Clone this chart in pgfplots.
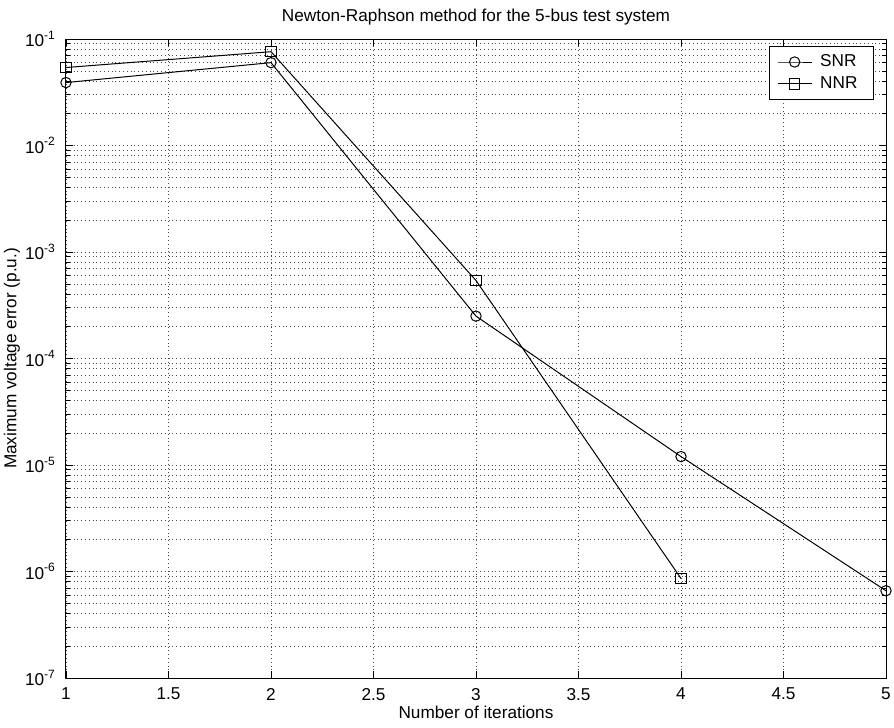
\documentclass[border=0pt]{standalone}
\usepackage{pgfplots}
\pgfplotsset{compat=1.18}
\usepackage{fontspec}
\setmainfont{Liberation Sans}

\newcommand{\chartfont}{\fontsize{8.6}{10}\selectfont}

\begin{document}
\begin{tikzpicture}[font=\chartfont]
\begin{semilogyaxis}[
    scale only axis,
    width=410pt, height=319.5pt,
    xmin=1, xmax=5,
    ymin=1e-7, ymax=1e-1,
    xtick={1,1.5,2,2.5,3,3.5,4,4.5,5},
    xticklabels={1,1.5,2,2.5,3,3.5,4,4.5,5},
    ytick={1e-7,1e-6,1e-5,1e-4,1e-3,1e-2,1e-1},
    yticklabels={10\textsuperscript{-7},10\textsuperscript{-6},10\textsuperscript{-5},
                 10\textsuperscript{-4},10\textsuperscript{-3},10\textsuperscript{-2},
                 10\textsuperscript{-1}},
    tick label style={font=\chartfont},
    xticklabel style={yshift=-1.5pt},
    yticklabel style={xshift=-1.5pt},
    tick align=inside,
    major tick length=3.5pt,
    minor tick length=2pt,
    tick style={black, line width=0.4pt},
    axis line style={black, line width=0.5pt},
    xmajorgrids, ymajorgrids, yminorgrids,
    major grid style={black!70, line width=0.4pt, dash pattern=on 0.5pt off 1.4pt},
    minor grid style={black!70, line width=0.4pt, dash pattern=on 0.5pt off 1.4pt},
    title={Newton-Raphson method for the 5-bus test system},
    every axis title/.style={font=\chartfont, at={(axis description cs:0.5,1.034)}, anchor=center},
    xlabel={Number of iterations},
    xlabel style={font=\chartfont, at={(axis description cs:0.5,-0.054)}, anchor=center},
    ylabel={Maximum voltage error (p.u.)},
    ylabel style={font=\chartfont, at={(axis description cs:-0.066,0.5)}, anchor=center, rotate=0},
    legend style={font=\chartfont, at={(rel axis cs:1,1)}, anchor=north east,
        xshift=-6pt, yshift=-3.5pt, draw=black, line width=0.5pt, fill=white,
        inner xsep=4pt, inner ysep=2pt, row sep=-0.5pt,
        nodes={inner xsep=4pt}},
    legend cell align=left,
    every axis plot/.append style={black, line width=0.5pt, mark size=2.6pt,
        mark options={solid, line width=0.5pt}},
]
\addplot[mark=o] coordinates {
    (1, 0.039)
    (2, 0.060)
    (3, 2.5e-4)
    (4, 1.2e-5)
    (5, 6.6e-7)
};
\addplot[mark=square] coordinates {
    (1, 0.054)
    (2, 0.076)
    (3, 5.4e-4)
    (4, 8.6e-7)
};
\legend{SNR,NNR}
\coordinate (sw) at (rel axis cs:0,0);
\coordinate (ne) at (rel axis cs:1,1);
\end{semilogyaxis}
\pgfresetboundingbox
\path ([shift={(-33pt,-25pt)}]sw) rectangle ([shift={(4pt,19.5pt)}]ne);
\end{tikzpicture}
\end{document}
